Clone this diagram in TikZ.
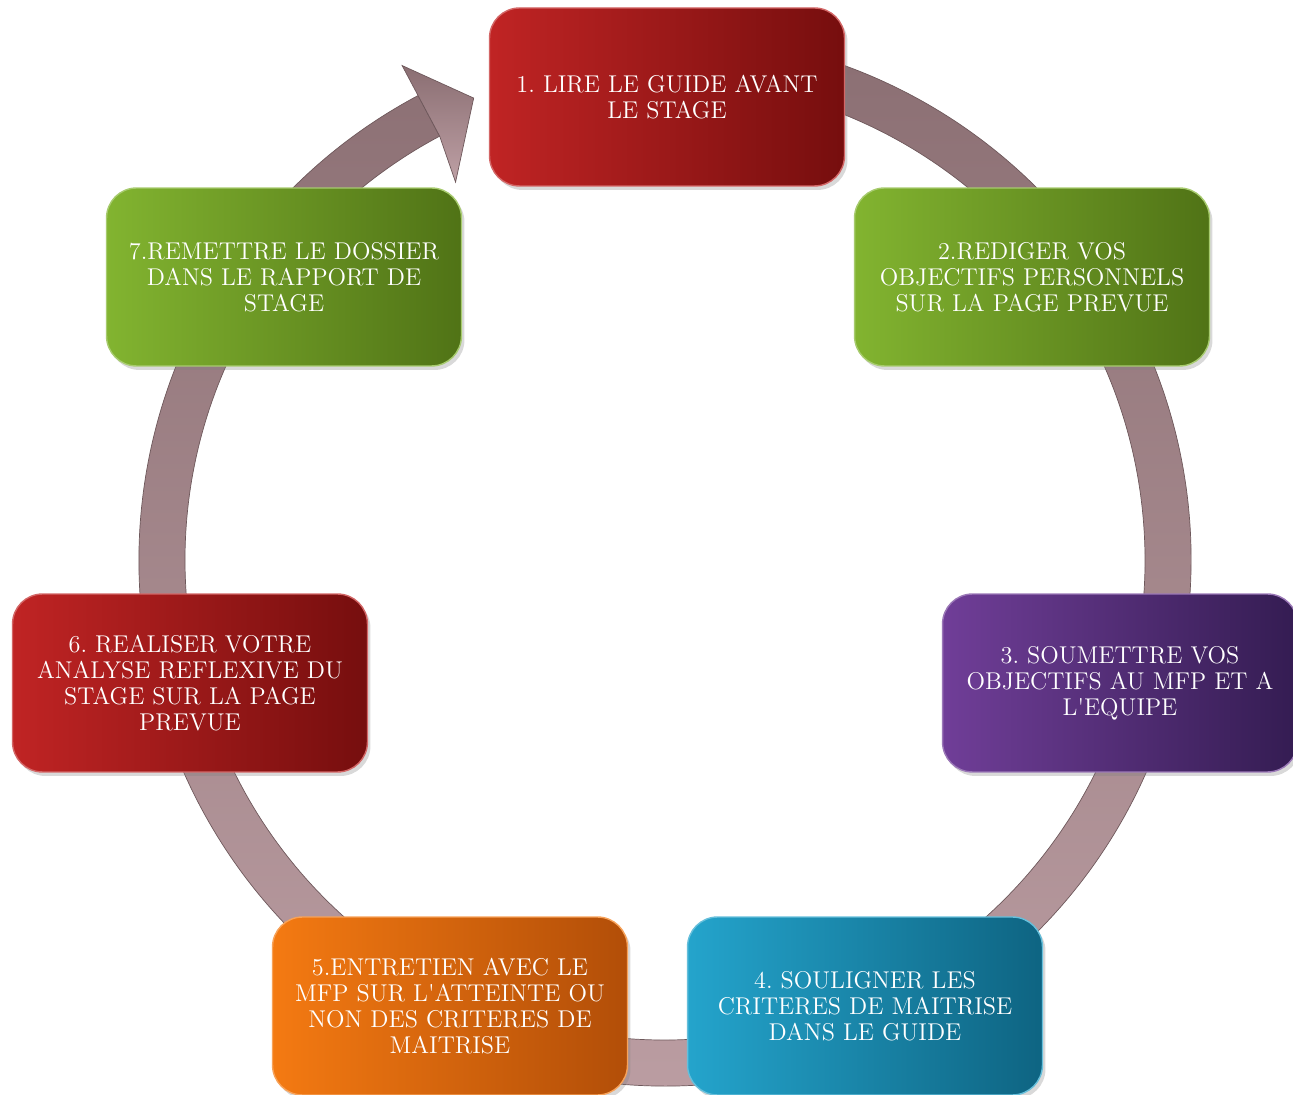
\documentclass[tikz,border=0pt]{standalone}
\usepackage{tikz}
\usetikzlibrary{shadows}
\definecolor{ringdark}{RGB}{138,110,114}
\definecolor{ringlight}{RGB}{190,160,165}
\definecolor{redL}{RGB}{192,36,36}
\definecolor{redR}{RGB}{118,14,14}
\definecolor{greenL}{RGB}{130,180,48}
\definecolor{greenR}{RGB}{80,115,22}
\definecolor{purpleL}{RGB}{112,62,152}
\definecolor{purpleR}{RGB}{52,28,82}
\definecolor{tealL}{RGB}{36,164,204}
\definecolor{tealR}{RGB}{14,100,130}
\definecolor{orangeL}{RGB}{244,122,18}
\definecolor{orangeR}{RGB}{178,78,8}
\tikzset{
  stepbox/.style 2 args={rectangle, rounded corners=0.6cm, minimum width=7.1cm,
    minimum height=3.56cm, text width=6.8cm, align=center, text=white,
    left color=#1, right color=#2, draw=#1!70!white, line width=0.8pt,
    drop shadow={opacity=0.3, shadow xshift=0.06cm, shadow yshift=-0.08cm},
    font=\fontsize{13.8}{14.8}\selectfont\frenchspacing},
  ringpart/.style={top color=ringdark, bottom color=ringlight, draw=ringdark!80!black, line width=0.4pt}
}

\begin{document}
\begin{tikzpicture}[x=0.02cm, y=0.02cm]
        \useasboundingbox (0,0) rectangle (1293,1094);
        \begin{scope}[shift={(665,534)}]
          \path[ringpart] (118:526) arc[start angle=118, end angle=455, radius=526]
            -- (455:480) arc[start angle=455, end angle=118, radius=480] -- cycle;
          \path[ringpart] (118:560) -- (112.5:500) -- (119:432) -- (118:480) -- (118:526) -- cycle;
        \end{scope}
        \node[stepbox={redL}{redR}] (s1) at (667,997) {1. LIRE LE GUIDE AVANT\\LE STAGE};
        \node[stepbox={greenL}{greenR}] (s2) at (1032,817) {2.REDIGER VOS\\OBJECTIFS PERSONNELS\\SUR LA PAGE PREVUE};
        \node[stepbox={purpleL}{purpleR}] (s3) at (1120,411) {3. SOUMETTRE VOS\\OBJECTIFS AU MFP ET A\\L\textquotesingle EQUIPE};
        \node[stepbox={tealL}{tealR}] (s4) at (865,88) {4. SOULIGNER LES\\CRITERES DE MAITRISE\\DANS LE GUIDE};
        \node[stepbox={orangeL}{orangeR}] (s5) at (450,88) {5.ENTRETIEN AVEC LE\\MFP SUR L\textquotesingle ATTEINTE OU\\NON DES CRITERES DE\\MAITRISE};
        \node[stepbox={redL}{redR}] (s6) at (190,411) {6. REALISER VOTRE\\ANALYSE REFLEXIVE DU\\STAGE SUR LA PAGE\\PREVUE};
        \node[stepbox={greenL}{greenR}] (s7) at (284,817) {7.REMETTRE LE DOSSIER\\DANS LE RAPPORT DE\\STAGE};
      \end{tikzpicture}
\end{document}
